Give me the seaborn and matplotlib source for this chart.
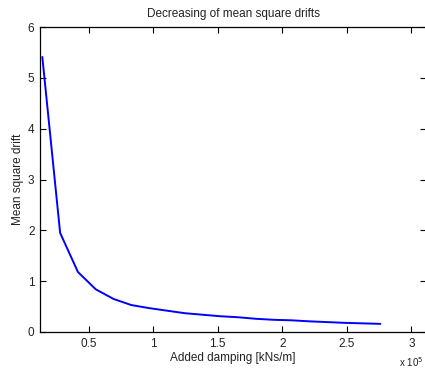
import matplotlib
matplotlib.use("Agg")
import matplotlib.pyplot as plt
from matplotlib.ticker import FuncFormatter
import seaborn as sns
import pandas as pd

# Added damping [kNs/m] and resulting mean square drift
damping = [14000, 27800, 41600, 55400, 69200, 83000, 96700, 110500, 124300, 138100,
           151900, 165700, 179500, 193300, 207100, 220900, 234700, 248500, 262300, 276000]
drift = [5.41, 1.95, 1.18, 0.84, 0.65, 0.53, 0.47, 0.42, 0.37, 0.34,
         0.31, 0.29, 0.26, 0.24, 0.23, 0.21, 0.195, 0.18, 0.17, 0.16]

x_ticks = [50000, 100000, 150000, 200000, 250000, 300000]
y_ticks = [0, 1, 2, 3, 4, 5, 6]

df = pd.DataFrame({"damping": damping, "drift": drift})

sns.set_theme(style="ticks")
plt.rcParams["font.family"] = ["Liberation Sans", "DejaVu Sans"]

fig = plt.figure(figsize=(4.25, 3.7), dpi=100)
ax = fig.add_axes([40 / 425, 1 - 332 / 370, 386 / 425, 305 / 370])

sns.lineplot(data=df, x="damping", y="drift", ax=ax, color="#0000ff",
             linewidth=1.4, estimator=None, sort=False)

ax.set_xlim(12200, 311400)
ax.set_ylim(0, 6)
ax.set_xticks(x_ticks)
ax.set_yticks(y_ticks)
ax.xaxis.set_major_formatter(FuncFormatter(lambda v, p: f"{v / 1e5:g}"))

ax.tick_params(direction="in", length=4, width=0.8, color="black",
               labelsize=8.5, top=True, right=True, pad=4, labelcolor="#222222")
for s in ax.spines.values():
    s.set_visible(True)
    s.set_color("black")
    s.set_linewidth(0.9)

ax.set_xlabel("Added damping [kNs/m]", fontsize=8.5, labelpad=2, color="#222222")
ax.set_ylabel("Mean square drift", fontsize=8.5, labelpad=3, color="#222222")
ax.set_title("Decreasing of mean square drifts", fontsize=8.5, pad=7, color="#222222")
fig.text(423 / 425, 1 - 367 / 370, "x 10$^5$", fontsize=7,
         ha="right", va="baseline", color="#222222")

fig.savefig("out.png", dpi=100)
